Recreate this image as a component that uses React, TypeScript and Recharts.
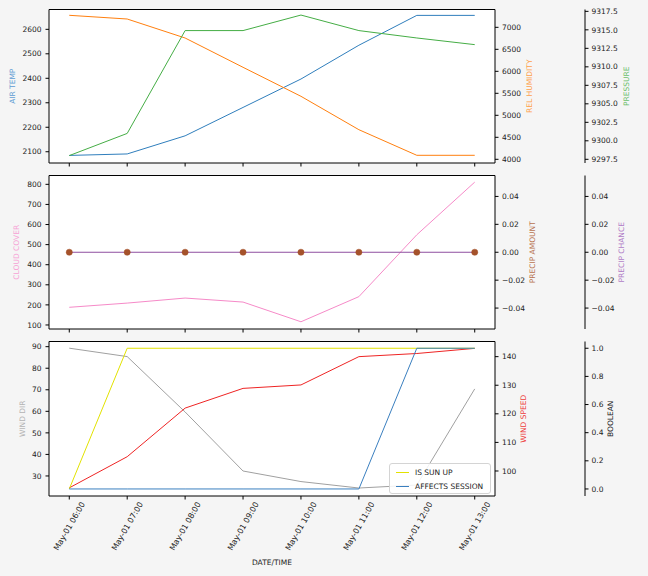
import React from "react";
import { CartesianGrid, Legend, Line, LineChart, ReferenceArea, XAxis, YAxis } from "recharts";

const times = [
  "May-01 06:00",
  "May-01 07:00",
  "May-01 08:00",
  "May-01 09:00",
  "May-01 10:00",
  "May-01 11:00",
  "May-01 12:00",
  "May-01 13:00",
];

const airTemp = [2085, 2091, 2165, 2281, 2397, 2535, 2657, 2657];
const relHumidity = [7273, 7189, 6757, 6091, 5432, 4673, 4091, 4091];
const pressure = [9298.0, 9301.0, 9314.9, 9314.9, 9317.0, 9314.9, 9313.9, 9313.0];
const cloudCover = [188, 209, 234, 214, 116, 241, 549, 811];
const precipAmount = [0, 0, 0, 0, 0, 0, 0, 0];
const precipChance = [0, 0, 0, 0, 0, 0, 0, 0];
const windDir = [89.3, 85.4, 59.7, 32.3, 27.4, 24.4, 25.8, 70.4];
const windSpeed = [94.1, 105, 122, 128.9, 130.1, 140, 141.1, 142.9];
const isSunUp = [0, 1, 1, 1, 1, 1, 1, 1];
const affectsSession = [0, 0, 0, 0, 0, 0, 1, 1];

const airTempTicks = [2100, 2200, 2300, 2400, 2500, 2600];
const humidityTicks = [4000, 4500, 5000, 5500, 6000, 6500, 7000];
const pressureTicks = [9297.5, 9300, 9302.5, 9305, 9307.5, 9310, 9312.5, 9315, 9317.5];
const cloudTicks = [100, 200, 300, 400, 500, 600, 700, 800];
const precipTicks = [-0.04, -0.02, 0, 0.02, 0.04];
const windDirTicks = [30, 40, 50, 60, 70, 80, 90];
const windSpeedTicks = [100, 110, 120, 130, 140];
const boolTicks = [0, 0.2, 0.4, 0.6, 0.8, 1.0];
const legendOrder = ["isSunUp", "affectsSession"];

const rows = times.map((t, i) => ({
  i,
  t,
  airTemp: airTemp[i],
  relHumidity: relHumidity[i],
  pressure: pressure[i],
  cloudCover: cloudCover[i],
  precipAmount: precipAmount[i],
  precipChance: precipChance[i],
  windDir: windDir[i],
  windSpeed: windSpeed[i],
  isSunUp: isSunUp[i],
  affectsSession: affectsSession[i],
}));

const FONT = "DejaVu Sans";
const FS = 7.5;
const tickStyle = { fontSize: FS, fill: "#222", fontFamily: FONT };
const tickLine = { stroke: "#000" };
const xDomain: [number, number] = [-0.35, 7.35];
const xTicks = times.map((_, i) => i);

const C = {
  blue: "#2f7ebc",
  orange: "#ff7f0e",
  green: "#45ad45",
  pink: "#f68ac8",
  brown: "#a5522b",
  purple: "#8f4fa0",
  grey: "#a0a0a0",
  red: "#ee2424",
  yellow: "#e2e200",
  session: "#3a7fbf",
};

function AxisTitle(props: any) {
  const vb = props.viewBox || {};
  const cx = (vb.x || 0) + props.shift;
  const cy = (vb.y || 0) + (vb.height || 0) / 2;
  return (
    <text
      x={cx}
      y={cy}
      transform={`rotate(-90 ${cx} ${cy})`}
      textAnchor="middle"
      dominantBaseline="central"
      fontSize={FS}
      fontFamily={FONT}
      fill={props.color}
    >
      {props.text}
    </text>
  );
}

function XTitle(props: any) {
  const vb = props.viewBox || {};
  const cx = (vb.x || 0) + (vb.width || 0) / 2;
  const cy = (vb.y || 0) + 66;
  return (
    <text x={cx} y={cy} textAnchor="middle" dominantBaseline="central" fontSize={FS} fontFamily={FONT} fill="#222">
      DATE/TIME
    </text>
  );
}

// rotated tick label: end of the text sits just right of the tick, below the plot
function DateTick(props: any) {
  const { x, payload } = props;
  const px = x + 16;
  const py = 168;
  return (
    <text
      x={px}
      y={py}
      transform={`rotate(-60 ${px} ${py})`}
      textAnchor="end"
      fontSize={7.9}
      fontFamily={FONT}
      fill="#222"
    >
      {times[payload.value]}
    </text>
  );
}

function BoolLegend(props: any) {
  const items = (props.payload || [])
    .filter((p: any) => legendOrder.includes(p.dataKey))
    .sort((a: any, b: any) => legendOrder.indexOf(a.dataKey) - legendOrder.indexOf(b.dataKey));
  return (
    <div
      style={{
        width: 102,
        height: 31,
        boxSizing: "border-box",
        border: "1px solid #d4d4d4",
        borderRadius: 3,
        background: "rgba(255,255,255,0.85)",
        fontFamily: FONT,
        fontSize: FS,
        color: "#222",
        paddingTop: 1,
      }}
    >
      {items.map((p: any) => (
        <div key={p.dataKey} style={{ display: "flex", alignItems: "center", height: 14.5 }}>
          <span
            style={{
              display: "inline-block",
              width: 13,
              height: 0,
              borderTop: `1px solid ${p.color}`,
              marginLeft: 6,
              marginRight: 6,
            }}
          />
          <span>{p.value}</span>
        </div>
      ))}
    </div>
  );
}

function plainX(height: number) {
  return (
    <XAxis
      dataKey="i"
      type="number"
      domain={xDomain}
      ticks={xTicks}
      allowDataOverflow
      axisLine={false}
      tickLine={tickLine}
      tickSize={3.5}
      tickFormatter={() => ""}
      height={height}
    />
  );
}

function frame(domain: [number, number]) {
  return (
    <ReferenceArea
      x1={xDomain[0]}
      x2={xDomain[1]}
      y1={domain[0]}
      y2={domain[1]}
      fill="none"
      stroke="#000"
      strokeWidth={1}
      ifOverflow="visible"
    />
  );
}

const airDomain: [number, number] = [2054, 2681];
const humDomain: [number, number] = [3916, 7405];
const presDomain: [number, number] = [9297.0, 9317.75];
const cloudDomain: [number, number] = [80, 844];
const precipDomain: [number, number] = [-0.055, 0.055];
const dirDomain: [number, number] = [20.7, 92.4];
const speedDomain: [number, number] = [91.25, 145.3];
const boolDomain: [number, number] = [-0.05, 1.048];

const fmtPrecip = (v: number) => (Math.abs(v) < 1e-9 ? "0.00" : v < 0 ? "\u2212" + Math.abs(v).toFixed(2) : v.toFixed(2));

export default function App() {
  return (
    <div
      style={{
        position: "absolute",
        left: 0,
        top: 0,
        width: 648,
        height: 576,
        background: "#f5f5f5",
        fontFamily: FONT,
      }}
    >
      <div style={{ position: "absolute", left: 0, top: 0 }}>
        <LineChart width={648} height={173} data={rows} margin={{ top: 9.5, right: 0, bottom: 0, left: 0 }}>
          <CartesianGrid fill="#fff" horizontal={false} vertical={false} />
          {plainX(10)}
          <YAxis
            type="number"
            domain={airDomain}
            ticks={airTempTicks}
            allowDataOverflow
            width={49}
            axisLine={false}
            tickLine={tickLine}
            tickSize={3.5}
            tickMargin={4}
            tick={tickStyle}
            label={<AxisTitle text="AIR TEMP" shift={12.2} color="#5d9bd3" />}
          />
          <YAxis
            yAxisId="r1"
            orientation="right"
            type="number"
            domain={humDomain}
            ticks={humidityTicks}
            allowDataOverflow
            width={90}
            axisLine={false}
            tickLine={tickLine}
            tickSize={3.5}
            tickMargin={3.5}
            tick={tickStyle}
            label={<AxisTitle text="REL HUMIDITY" shift={34} color="#ffa04a" />}
          />
          <YAxis
            yAxisId="r2"
            orientation="right"
            type="number"
            domain={presDomain}
            ticks={pressureTicks}
            allowDataOverflow
            width={63}
            axisLine={{ stroke: "#000" }}
            tickLine={tickLine}
            tickSize={3.5}
            tickMargin={3}
            tick={tickStyle}
            tickFormatter={(v: number) => v.toFixed(1)}
            label={<AxisTitle text="PRESSURE" shift={41} color="#6cc06c" />}
          />
          {frame(airDomain)}
          <Line type="linear" dataKey="airTemp" stroke={C.blue} strokeWidth={1} dot={false} isAnimationActive={false} />
          <Line yAxisId="r1" type="linear" dataKey="relHumidity" stroke={C.orange} strokeWidth={1} dot={false} isAnimationActive={false} />
          <Line yAxisId="r2" type="linear" dataKey="pressure" stroke={C.green} strokeWidth={1} dot={false} isAnimationActive={false} />
        </LineChart>
      </div>

      <div style={{ position: "absolute", left: 0, top: 170 }}>
        <LineChart width={648} height={169} data={rows} margin={{ top: 5.5, right: 0, bottom: 0, left: 0 }}>
          <CartesianGrid fill="#fff" horizontal={false} vertical={false} />
          {plainX(10)}
          <YAxis
            type="number"
            domain={cloudDomain}
            ticks={cloudTicks}
            allowDataOverflow
            width={49}
            axisLine={false}
            tickLine={tickLine}
            tickSize={3.5}
            tickMargin={4}
            tick={tickStyle}
            label={<AxisTitle text="CLOUD COVER" shift={16.7} color="#f7a3d6" />}
          />
          <YAxis
            yAxisId="r1"
            orientation="right"
            type="number"
            domain={precipDomain}
            ticks={precipTicks}
            allowDataOverflow
            width={90}
            axisLine={false}
            tickLine={tickLine}
            tickSize={3.5}
            tickMargin={3.5}
            tick={tickStyle}
            tickFormatter={fmtPrecip}
            label={<AxisTitle text="PRECIP AMOUNT" shift={37.7} color="#b8734f" />}
          />
          <YAxis
            yAxisId="r2"
            orientation="right"
            type="number"
            domain={precipDomain}
            ticks={precipTicks}
            allowDataOverflow
            width={63}
            axisLine={{ stroke: "#000" }}
            tickLine={tickLine}
            tickSize={3.5}
            tickMargin={3}
            tick={tickStyle}
            tickFormatter={fmtPrecip}
            label={<AxisTitle text="PRECIP CHANCE" shift={36.7} color="#b07cc6" />}
          />
          {frame(cloudDomain)}
          <Line type="linear" dataKey="cloudCover" stroke={C.pink} strokeWidth={1} dot={false} isAnimationActive={false} />
          <Line yAxisId="r2" type="linear" dataKey="precipChance" stroke={C.purple} strokeWidth={1} dot={false} isAnimationActive={false} />
          <Line
            yAxisId="r1"
            type="linear"
            dataKey="precipAmount"
            stroke="none"
            dot={{ r: 3.1, fill: C.brown, stroke: C.brown, strokeWidth: 0.5 }}
            isAnimationActive={false}
          />
        </LineChart>
      </div>

      <div style={{ position: "absolute", left: 0, top: 336 }}>
        <LineChart width={648} height={240} data={rows} margin={{ top: 5.5, right: 0, bottom: 0, left: 0 }}>
          <CartesianGrid fill="#fff" horizontal={false} vertical={false} />
          <XAxis
            dataKey="i"
            type="number"
            domain={xDomain}
            ticks={xTicks}
            allowDataOverflow
            axisLine={false}
            tickLine={tickLine}
            tickSize={3.5}
            tickMargin={2}
            tick={<DateTick />}
            height={80}
            label={<XTitle />}
          />
          <YAxis
            type="number"
            domain={dirDomain}
            ticks={windDirTicks}
            allowDataOverflow
            width={49}
            axisLine={false}
            tickLine={tickLine}
            tickSize={3.5}
            tickMargin={4}
            tick={tickStyle}
            label={<AxisTitle text="WIND DIR" shift={22.3} color="#b3b3b3" />}
          />
          <YAxis
            yAxisId="r1"
            orientation="right"
            type="number"
            domain={speedDomain}
            ticks={windSpeedTicks}
            allowDataOverflow
            width={90}
            axisLine={false}
            tickLine={tickLine}
            tickSize={3.5}
            tickMargin={3.5}
            tick={tickStyle}
            label={<AxisTitle text="WIND SPEED" shift={28.3} color="#ee3a3a" />}
          />
          <YAxis
            yAxisId="r2"
            orientation="right"
            type="number"
            domain={boolDomain}
            ticks={boolTicks}
            allowDataOverflow
            width={63}
            axisLine={{ stroke: "#000" }}
            tickLine={tickLine}
            tickSize={3.5}
            tickMargin={3}
            tick={tickStyle}
            tickFormatter={(v: number) => v.toFixed(1)}
            label={<AxisTitle text="BOOLEAN" shift={25.7} color="#222" />}
          />
          {frame(dirDomain)}
          <Line type="linear" dataKey="windDir" name="WIND DIR" stroke={C.grey} strokeWidth={1} dot={false} isAnimationActive={false} />
          <Line yAxisId="r1" type="linear" dataKey="windSpeed" name="WIND SPEED" stroke={C.red} strokeWidth={1} dot={false} isAnimationActive={false} />
          <Line yAxisId="r2" type="linear" dataKey="isSunUp" name="IS SUN UP" stroke={C.yellow} strokeWidth={1} dot={false} isAnimationActive={false} />
          <Line yAxisId="r2" type="linear" dataKey="affectsSession" name="AFFECTS SESSION" stroke={C.session} strokeWidth={1} dot={false} isAnimationActive={false} />
          <Legend
            layout="horizontal"
            verticalAlign="middle"
            align="center"
            content={(p: any) => <BoolLegend {...p} />}
            wrapperStyle={{ position: "absolute", left: 389, top: 127, width: 102, height: 31 }}
          />
        </LineChart>
      </div>
    </div>
  );
}
